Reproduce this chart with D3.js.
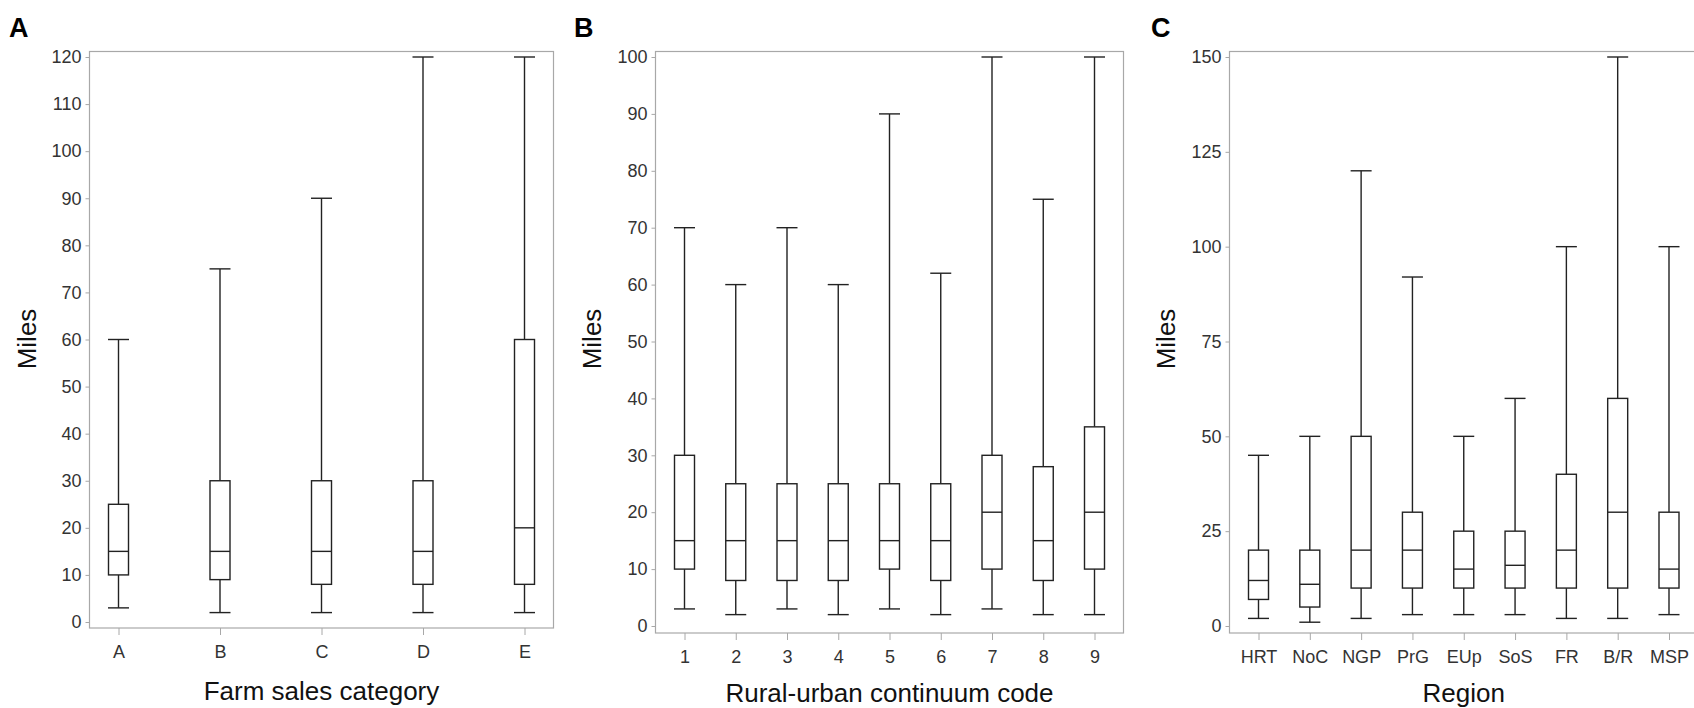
<!DOCTYPE html>
<html><head><meta charset="utf-8">
<script src="https://cdn.jsdelivr.net/npm/d3@7"></script>
<style>
html,body{margin:0;padding:0;background:#fff;overflow:hidden;}
svg{display:block;font-family:"Liberation Sans",Arial,sans-serif;}
</style></head>
<body>
<svg id="chart" width="1694" height="708"></svg>
<script>
// Panel A: Farm sales category
const catsA = ["A","B","C","D","E"];
const lowA  = [3, 2, 2, 2, 2];
const q1A   = [10, 9, 8, 8, 8];
const medA  = [15, 15, 15, 15, 20];
const q3A   = [25, 30, 30, 30, 60];
const highA = [60, 75, 90, 120, 120];
const ticksA = [0,10,20,30,40,50,60,70,80,90,100,110,120];

// Panel B: Rural-urban continuum code
const catsB = ["1","2","3","4","5","6","7","8","9"];
const lowB  = [3, 2, 3, 2, 3, 2, 3, 2, 2];
const q1B   = [10, 8, 8, 8, 10, 8, 10, 8, 10];
const medB  = [15, 15, 15, 15, 15, 15, 20, 15, 20];
const q3B   = [30, 25, 25, 25, 25, 25, 30, 28, 35];
const highB = [70, 60, 70, 60, 90, 62, 100, 75, 100];
const ticksB = [0,10,20,30,40,50,60,70,80,90,100];

// Panel C: Region
const catsC = ["HRT","NoC","NGP","PrG","EUp","SoS","FR","B/R","MSP"];
const lowC  = [2, 1, 2, 3, 3, 3, 2, 2, 3];
const q1C   = [7, 5, 10, 10, 10, 10, 10, 10, 10];
const medC  = [12, 11, 20, 20, 15, 16, 20, 30, 15];
const q3C   = [20, 20, 50, 30, 25, 25, 40, 60, 30];
const highC = [45, 50, 120, 92, 50, 60, 100, 150, 100];
const ticksC = [0,25,50,75,100,125,150];

const svg = d3.select("#chart");
const FRAME = "#a8a8a8", INK = "#222", TXT = "#333";

function panel(o){
  const g = svg.append("g");
  const x = d3.scalePoint().domain(o.cats).range([o.x0 + 29, o.x1 - 29]);
  const y = d3.scaleLinear().domain([0, o.max]).range([o.yZero, 57]);

  // frame
  g.append("rect").attr("x", o.x0).attr("y", 51.5)
    .attr("width", o.x1 - o.x0).attr("height", o.yBot - 51.5)
    .attr("fill", "none").attr("stroke", FRAME).attr("stroke-width", 1.2);

  // y axis
  const ya = d3.axisLeft(y).tickValues(o.ticks).tickSize(4).tickPadding(4);
  const yg = g.append("g").attr("transform", `translate(${o.x0},0)`).call(ya);
  yg.select(".domain").remove();
  yg.selectAll(".tick line").attr("stroke", FRAME);
  yg.selectAll(".tick text").attr("fill", TXT).style("font-size", "18px")
    .style("font-family", '"Liberation Sans",Arial,sans-serif');

  // x axis
  const xa = d3.axisBottom(x).tickSize(7).tickPadding(10);
  const xg = g.append("g").attr("transform", `translate(0,${o.yBot})`).call(xa);
  xg.select(".domain").remove();
  xg.selectAll(".tick line").attr("stroke", FRAME);
  xg.selectAll(".tick text").attr("fill", TXT).style("font-size", "18px")
    .style("font-family", '"Liberation Sans",Arial,sans-serif');

  const rows = o.cats.map((c, i) => ({c, lo:o.low[i], q1:o.q1[i], md:o.med[i], q3:o.q3[i], hi:o.high[i]}));
  const bw = 20, cw = 21;
  const b = g.selectAll(".bx").data(rows).join("g").attr("class","bx");
  // whiskers
  b.append("line").attr("x1", d => x(d.c)).attr("x2", d => x(d.c))
    .attr("y1", d => y(d.hi)).attr("y2", d => y(d.q3)).attr("stroke", INK).attr("stroke-width", 1.4);
  b.append("line").attr("x1", d => x(d.c)).attr("x2", d => x(d.c))
    .attr("y1", d => y(d.q1)).attr("y2", d => y(d.lo)).attr("stroke", INK).attr("stroke-width", 1.4);
  // caps
  b.append("line").attr("x1", d => x(d.c) - cw/2).attr("x2", d => x(d.c) + cw/2)
    .attr("y1", d => y(d.hi)).attr("y2", d => y(d.hi)).attr("stroke", INK).attr("stroke-width", 1.4);
  b.append("line").attr("x1", d => x(d.c) - cw/2).attr("x2", d => x(d.c) + cw/2)
    .attr("y1", d => y(d.lo)).attr("y2", d => y(d.lo)).attr("stroke", INK).attr("stroke-width", 1.4);
  // box
  b.append("rect").attr("x", d => x(d.c) - bw/2).attr("width", bw)
    .attr("y", d => y(d.q3)).attr("height", d => y(d.q1) - y(d.q3))
    .attr("fill", "#fff").attr("stroke", INK).attr("stroke-width", 1.4);
  // median
  b.append("line").attr("x1", d => x(d.c) - bw/2).attr("x2", d => x(d.c) + bw/2)
    .attr("y1", d => y(d.md)).attr("y2", d => y(d.md)).attr("stroke", INK).attr("stroke-width", 1.4);

  // titles
  g.append("text").attr("x", (o.x0 + o.x1) / 2).attr("y", o.titleY)
    .attr("text-anchor", "middle").style("font-size", "26px").attr("fill", "#111").text(o.title);
  g.append("text").attr("transform", `translate(${o.milesX},339) rotate(-90)`)
    .attr("text-anchor", "middle").attr("dominant-baseline", "central")
    .style("font-size", "26px").attr("fill", "#111").text("Miles");
  g.append("text").attr("x", o.letterX).attr("y", 36.5)
    .style("font-size", "27px").style("font-weight", "bold").attr("fill", "#000").text(o.letter);
}

panel({cats:catsA, low:lowA, q1:q1A, med:medA, q3:q3A, high:highA, ticks:ticksA, max:120,
  x0:89.5, x1:553.5, yZero:622, yBot:628, title:"Farm sales category", titleY:700,
  milesX:27, letter:"A", letterX:9});
panel({cats:catsB, low:lowB, q1:q1B, med:medB, q3:q3B, high:highB, ticks:ticksB, max:100,
  x0:655.5, x1:1123.5, yZero:626, yBot:633, title:"Rural-urban continuum code", titleY:701.5,
  milesX:592, letter:"B", letterX:574});
panel({cats:catsC, low:lowC, q1:q1C, med:medC, q3:q3C, high:highC, ticks:ticksC, max:150,
  x0:1229.5, x1:1698, yZero:626, yBot:633, title:"Region", titleY:701.5,
  milesX:1166, letter:"C", letterX:1151});
</script>
</body></html>
